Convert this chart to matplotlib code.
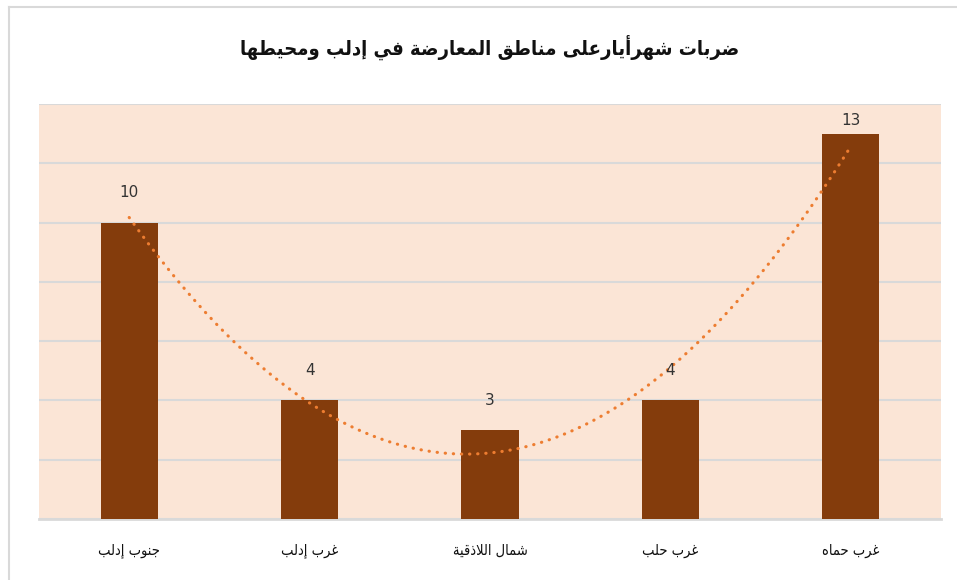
import numpy as np
import matplotlib
matplotlib.use("Agg")
import matplotlib.pyplot as plt
from matplotlib.lines import Line2D

# ---------------- data ----------------
title = "ضربات شهرأيارعلى مناطق المعارضة في إدلب ومحيطها"
categories = ["جنوب إدلب", "غرب إدلب", "شمال اللاذقية", "غرب حلب", "غرب حماه"]
values = [10, 4, 3, 4, 13]

# ---------------- minimal Arabic shaping ----------------
# (isolated, final, initial, medial) presentation forms
_forms = {}
def _add(ch, base, n):
    _forms[ch] = tuple(chr(base + i) for i in range(n))
_add('\u0621', 0xFE80, 1)
_add('\u0622', 0xFE81, 2)
_add('\u0623', 0xFE83, 2)
_add('\u0624', 0xFE85, 2)
_add('\u0625', 0xFE87, 2)
_add('\u0626', 0xFE89, 4)
_add('\u0627', 0xFE8D, 2)
_add('\u0628', 0xFE8F, 4)
_add('\u0629', 0xFE93, 2)
_add('\u062A', 0xFE95, 4)
_add('\u062B', 0xFE99, 4)
_add('\u062C', 0xFE9D, 4)
_add('\u062D', 0xFEA1, 4)
_add('\u062E', 0xFEA5, 4)
_add('\u062F', 0xFEA9, 2)
_add('\u0630', 0xFEAB, 2)
_add('\u0631', 0xFEAD, 2)
_add('\u0632', 0xFEAF, 2)
_add('\u0633', 0xFEB1, 4)
_add('\u0634', 0xFEB5, 4)
_add('\u0635', 0xFEB9, 4)
_add('\u0636', 0xFEBD, 4)
_add('\u0637', 0xFEC1, 4)
_add('\u0638', 0xFEC5, 4)
_add('\u0639', 0xFEC9, 4)
_add('\u063A', 0xFECD, 4)
_add('\u0641', 0xFED1, 4)
_add('\u0642', 0xFED5, 4)
_add('\u0643', 0xFED9, 4)
_add('\u0644', 0xFEDD, 4)
_add('\u0645', 0xFEE1, 4)
_add('\u0646', 0xFEE5, 4)
_add('\u0647', 0xFEE9, 4)
_add('\u0648', 0xFEED, 2)
_add('\u0649', 0xFEEF, 2)
_add('\u064A', 0xFEF1, 4)
_lamalef = {'\u0622': ('\uFEF5', '\uFEF6'), '\u0623': ('\uFEF7', '\uFEF8'),
            '\u0625': ('\uFEF9', '\uFEFA'), '\u0627': ('\uFEFB', '\uFEFC')}
_LAM = '\u0644'


def shape(text):
    toks = []
    i = 0
    while i < len(text):
        c = text[i]
        if c == _LAM and i + 1 < len(text) and text[i + 1] in _lamalef:
            toks.append(('LA', text[i + 1]))
            i += 2
        else:
            toks.append(('C', c))
            i += 1

    def joins_left(t):
        if t is None or t[0] == 'LA':
            return False
        return t[1] in _forms and len(_forms[t[1]]) == 4

    def joins_right(t):
        if t is None:
            return False
        if t[0] == 'LA':
            return True
        return t[1] in _forms and len(_forms[t[1]]) >= 2

    out = []
    for k, t in enumerate(toks):
        prev = toks[k - 1] if k > 0 else None
        nxt = toks[k + 1] if k + 1 < len(toks) else None
        cp = joins_left(prev) and joins_right(t)
        cn = joins_left(t) and joins_right(nxt)
        if t[0] == 'LA':
            iso, fin = _lamalef[t[1]]
            out.append(fin if cp else iso)
            continue
        c = t[1]
        if c not in _forms:
            out.append(c)
            continue
        f = _forms[c]
        if len(f) == 1:
            out.append(f[0])
        elif len(f) == 2:
            out.append(f[1] if cp else f[0])
        else:
            if cp and cn:
                out.append(f[3])
            elif cp:
                out.append(f[1])
            elif cn:
                out.append(f[2])
            else:
                out.append(f[0])
    return ''.join(reversed(out))


# ---------------- colours ----------------
BAR = '#843C0C'
BG = '#FBE5D6'
TREND = '#ED7D31'
GRID = '#D9D9D9'

plt.rcParams['font.family'] = ['DejaVu Sans']

W, H = 957, 580
fig = plt.figure(figsize=(W / 100, H / 100), dpi=100)
fig.patch.set_facecolor('white')

L, R, T, B = 39, 941, 104, 519
ax = fig.add_axes([L / W, 1 - B / H, (R - L) / W, (B - T) / H])
ax.set_facecolor(BG)

x = np.arange(1, len(values) + 1)
ax.bar(x, values, width=0.316, color=BAR, zorder=3)

# polynomial (order 2) trendline
coef = np.polyfit(x, values, 2)
xs = np.linspace(x[0], x[-1], 300)
ax.plot(xs, np.polyval(coef, xs), color=TREND, lw=2.25,
        linestyle=(0, (0.1, 2.5)), dash_capstyle='round', zorder=4)

ymax = 14
ax.set_xlim(0.5, len(values) + 0.5)
ax.set_ylim(0, ymax)
ax.set_yticks(np.arange(0, ymax + 1, 2))
ax.yaxis.grid(True, color=GRID, lw=1.5, zorder=0)
ax.set_axisbelow(True)
ax.tick_params(axis='y', length=0, labelleft=False)
ax.tick_params(axis='x', length=0, pad=17)
ax.set_xticks(x)
ax.set_xticklabels([shape(c) for c in categories], fontsize=10.5,
                   fontstretch='condensed', color='#111111')
for s in ['left', 'right', 'top']:
    ax.spines[s].set_visible(False)
ax.spines['bottom'].set_color(GRID)
ax.spines['bottom'].set_linewidth(2)

for xi, v in zip(x, values):
    ax.text(xi, min(v + 1.0, ymax - 0.55), str(v), ha='center', va='center',
            fontsize=11, color='#333333', zorder=5)

fig.text((L + R) / 2 / W, 1 - 47 / H, shape(title), ha='center', va='center',
         fontsize=14.5, fontweight='bold', fontstretch='condensed', color='#111111')

# outer chart border (top and left visible)
fig.add_artist(Line2D([9 / W, 1.0], [1 - 7 / H, 1 - 7 / H], color=GRID, lw=1.5,
                      transform=fig.transFigure))
fig.add_artist(Line2D([9 / W, 9 / W], [0.0, 1 - 7 / H], color=GRID, lw=1.5,
                      transform=fig.transFigure))

fig.savefig('out.png', dpi=100)
